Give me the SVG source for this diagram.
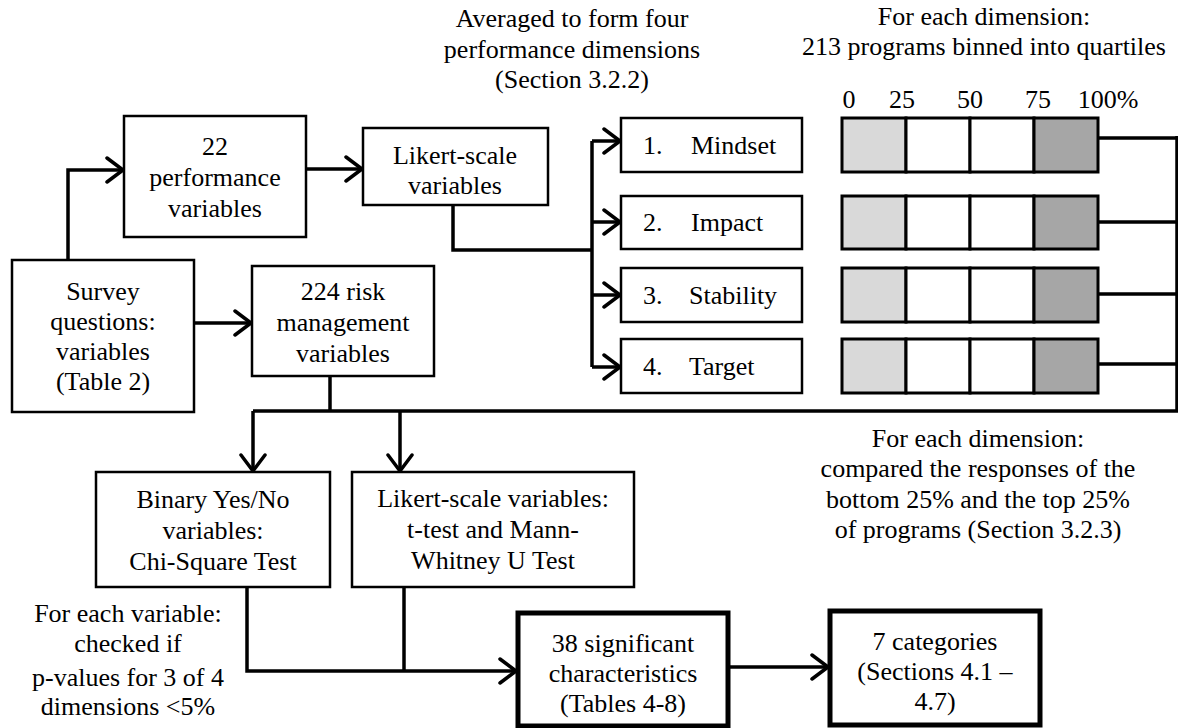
<svg xmlns="http://www.w3.org/2000/svg" width="1178" height="728" viewBox="0 0 1178 728" font-family="Liberation Serif, Times New Roman, Tinos, DejaVu Serif, serif">
<style>
text{font-family:'Liberation Serif','Times New Roman',Tinos,'DejaVu Serif',serif;font-size:26px;fill:#000;text-anchor:middle}
.box{fill:#fff;stroke:#000;stroke-width:2.5}
.thick{fill:#fff;stroke:#000;stroke-width:5}
.conn{fill:none;stroke:#000;stroke-width:3.5}
.arr{marker-end:url(#chev)}
.q{stroke:#000;stroke-width:3}
.lg{fill:#d9d9d9}
.dg{fill:#a6a6a6}
.wh{fill:#fff}
.st{text-anchor:start}
</style>
<defs>
<marker id="chev" viewBox="0 0 20 28" refX="18" refY="14" markerWidth="20" markerHeight="28" markerUnits="userSpaceOnUse" orient="auto">
<path d="M2,2 L18,14 L2,26" fill="none" stroke="#000" stroke-width="3.5" stroke-linecap="round"/>
</marker>
</defs>

<g id="connectors">
<path class="conn arr" d="M68,260 V170 H123"/>
<path class="conn arr" d="M306,169 H362"/>
<path class="conn arr" d="M194,323 H251"/>
<path class="conn" d="M453,205 V250 H592"/>
<path class="conn" d="M592,141 V367"/>
<path class="conn arr" d="M592,141 H620"/>
<path class="conn arr" d="M592,222 H620"/>
<path class="conn arr" d="M592,295 H620"/>
<path class="conn arr" d="M592,367 H620"/>
<path class="conn" d="M1098,138 H1177"/>
<path class="conn" d="M1098,222 H1177"/>
<path class="conn" d="M1098,294 H1177"/>
<path class="conn" d="M1098,364 H1177"/>
<path class="conn" d="M1177,136 V411 H253"/>
<path class="conn arr" d="M253,411 V471"/>
<path class="conn arr" d="M400,411 V471"/>
<path class="conn" d="M330,376 V411"/>
<path class="conn arr" d="M247,587 V671 H516"/>
<path class="conn" d="M404,587 V671"/>
<path class="conn arr" d="M728,667 H828"/>
</g>

<g id="survey">
<rect class="box" x="12" y="260" width="182" height="152"/>
<text x="103" y="300">Survey</text>
<text x="103" y="330">questions:</text>
<text x="103" y="360">variables</text>
<text x="103" y="390">(Table 2)</text>
</g>

<g id="perf22">
<rect class="box" x="124" y="116" width="182" height="121"/>
<text x="215" y="155">22</text>
<text x="215" y="186">performance</text>
<text x="215" y="217">variables</text>
</g>

<g id="likert-top">
<rect class="box" x="363" y="128" width="185" height="77"/>
<text x="455" y="164">Likert-scale</text>
<text x="455" y="194">variables</text>
</g>

<g id="risk224">
<rect class="box" x="252" y="266" width="182" height="110"/>
<text x="343" y="300">224 risk</text>
<text x="343" y="331">management</text>
<text x="343" y="362">variables</text>
</g>

<g id="averaged-label">
<text x="572" y="27">Averaged to form four</text>
<text x="572" y="58">performance dimensions</text>
<text x="572" y="88">(Section 3.2.2)</text>
</g>

<g id="quartile-label">
<text x="984" y="25">For each dimension:</text>
<text x="984" y="55">213 programs binned into quartiles</text>
<text x="849" y="108">0</text>
<text x="902" y="108">25</text>
<text x="970" y="108">50</text>
<text x="1038" y="108">75</text>
<text x="1108" y="108">100%</text>
</g>

<g id="dim-mindset">
<rect class="box" x="621" y="118" width="181" height="54"/>
<text class="st" x="643" y="154">1.</text>
<text class="st" x="691" y="154">Mindset</text>
</g>
<g id="dim-impact">
<rect class="box" x="621" y="196" width="181" height="53"/>
<text class="st" x="643" y="231">2.</text>
<text class="st" x="691" y="231">Impact</text>
</g>
<g id="dim-stability">
<rect class="box" x="621" y="268" width="181" height="54"/>
<text class="st" x="643" y="304">3.</text>
<text class="st" x="689" y="304">Stability</text>
</g>
<g id="dim-target">
<rect class="box" x="621" y="339" width="181" height="54"/>
<text class="st" x="643" y="375">4.</text>
<text class="st" x="689" y="375">Target</text>
</g>

<g id="bars-mindset">
<rect class="q lg" x="842" y="118" width="64" height="54"/>
<rect class="q wh" x="906" y="118" width="64" height="54"/>
<rect class="q wh" x="970" y="118" width="64" height="54"/>
<rect class="q dg" x="1034" y="118" width="64" height="54"/>
</g>
<g id="bars-impact">
<rect class="q lg" x="842" y="196" width="64" height="53"/>
<rect class="q wh" x="906" y="196" width="64" height="53"/>
<rect class="q wh" x="970" y="196" width="64" height="53"/>
<rect class="q dg" x="1034" y="196" width="64" height="53"/>
</g>
<g id="bars-stability">
<rect class="q lg" x="842" y="268" width="64" height="54"/>
<rect class="q wh" x="906" y="268" width="64" height="54"/>
<rect class="q wh" x="970" y="268" width="64" height="54"/>
<rect class="q dg" x="1034" y="268" width="64" height="54"/>
</g>
<g id="bars-target">
<rect class="q lg" x="842" y="339" width="64" height="54"/>
<rect class="q wh" x="906" y="339" width="64" height="54"/>
<rect class="q wh" x="970" y="339" width="64" height="54"/>
<rect class="q dg" x="1034" y="339" width="64" height="54"/>
</g>

<g id="compare-label">
<text x="978" y="447">For each dimension:</text>
<text x="978" y="477">compared the responses of the</text>
<text x="978" y="508">bottom 25% and the top 25%</text>
<text x="978" y="538">of programs (Section 3.2.3)</text>
</g>

<g id="binary">
<rect class="box" x="96" y="472" width="234" height="115"/>
<text x="213" y="508">Binary Yes/No</text>
<text x="213" y="539">variables:</text>
<text x="213" y="570">Chi-Square Test</text>
</g>

<g id="likert-bottom">
<rect class="box" x="352" y="472" width="282" height="115"/>
<text x="493" y="507">Likert-scale variables:</text>
<text x="493" y="538">t-test and Mann-</text>
<text x="493" y="569">Whitney U Test</text>
</g>

<g id="check-label">
<text x="128" y="622">For each variable:</text>
<text x="128" y="652">checked if</text>
<text x="128" y="686">p-values for 3 of 4</text>
<text x="128" y="715">dimensions &lt;5%</text>
</g>

<g id="sig38">
<rect class="thick" x="518" y="613" width="210" height="113"/>
<text x="623" y="652">38 significant</text>
<text x="623" y="682">characteristics</text>
<text x="623" y="712">(Tables 4-8)</text>
</g>

<g id="cat7">
<rect class="thick" x="830" y="611" width="210" height="114"/>
<text x="935" y="650">7 categories</text>
<text x="935" y="680">(Sections 4.1 –</text>
<text x="935" y="710">4.7)</text>
</g>
</svg>
